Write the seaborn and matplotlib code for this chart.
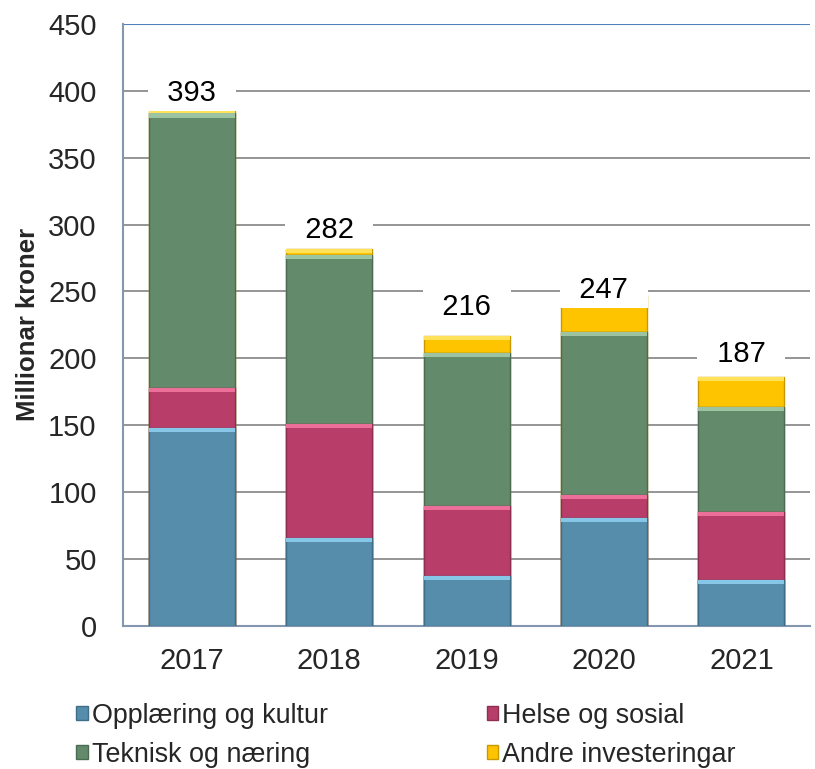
import matplotlib
matplotlib.use("Agg")
import matplotlib.pyplot as plt
import seaborn as sns
import pandas as pd
import numpy as np
from matplotlib.patches import Patch

years = ["2017", "2018", "2019", "2020", "2021"]
opplaering = [148, 66, 37, 81, 34]
helse = [30, 85, 53, 17, 51]
teknisk = [205, 126, 114, 122, 79]
andre = [2, 5, 13, 27, 22]
total_labels = ["393", "282", "216", "247", "187"]
series_names = ["Opplæring og kultur", "Helse og sosial", "Teknisk og næring", "Andre investeringar"]
colors = ["#558DAA", "#B83D68", "#638A6B", "#FFC400"]
edge_colors = ["#3F6E88", "#8E2E50", "#4B6B52", "#C89A00"]
light_colors = ["#86C6E6", "#EC6F9A", "#9CC3A2", "#FFE15A"]
label_offsets = [13, 14, 21.5, 4, 17]

sns.set_theme(style="white")
plt.rcParams["font.family"] = ["Liberation Sans", "DejaVu Sans"]

fig = plt.figure(figsize=(8.15, 7.69), dpi=100)
ax = fig.add_axes([0.151, 0.186, 0.843, 0.783])

series = [opplaering, helse, teknisk, andre]
cum = np.cumsum(np.array(series), axis=0)
for i in range(3, -1, -1):
    df = pd.DataFrame({"year": years, "value": cum[i]})
    sns.barplot(data=df, x="year", y="value", color=colors[i], width=0.625,
                edgecolor=edge_colors[i], linewidth=1.0, ax=ax, saturation=1,
                zorder=3, legend=False)

# bevel highlight at the top of each segment, derived from the drawn bars
bars = list(ax.patches)
for k, p in enumerate(bars):
    i = 3 - k // 5
    h = p.get_height()
    if h <= 0:
        continue
    strip = min(3.0, h * 0.5)
    ax.add_patch(plt.Rectangle((p.get_x(), h - strip), p.get_width(), strip,
                               facecolor=light_colors[i], edgecolor="none",
                               zorder=3.5))

totals = cum[3]
for j, lab in enumerate(total_labels):
    ax.text(j, totals[j] + label_offsets[j], "  " + lab + "  ", ha="center", va="center",
            fontsize=21, color="black", zorder=5,
            bbox=dict(facecolor="white", edgecolor="none", pad=2.5))

ax.set_ylim(0, 450)
ax.set_xlim(-0.5, 4.5)
ax.set_yticks(np.arange(0, 451, 50))
ax.tick_params(axis="both", labelsize=21, length=0)
ax.tick_params(axis="x", pad=15)
ax.tick_params(axis="y", pad=19)
ax.set_xlabel("")
ax.set_ylabel("Millionar kroner", fontsize=18.5, fontweight="bold", labelpad=6)
ax.yaxis.grid(True, color="#8C8C8C", linewidth=1.3, zorder=0)
ax.set_axisbelow(True)
for s in ["top", "right"]:
    ax.spines[s].set_visible(False)
ax.spines["left"].set_color("#8497B0")
ax.spines["left"].set_linewidth(1.5)
ax.spines["bottom"].set_color("#8497B0")
ax.spines["bottom"].set_linewidth(1.5)
ax.axhline(450, color="#4F81BD", linewidth=1.5, zorder=1)

handles = [Patch(facecolor=colors[i], edgecolor=edge_colors[i]) for i in range(4)]
h2 = [handles[0], handles[2], handles[1], handles[3]]
l2 = [series_names[0], series_names[2], series_names[1], series_names[3]]
fig.legend(h2, l2, ncol=2, loc="lower left", bbox_to_anchor=(0.064, -0.03),
           frameon=False, fontsize=19.4, handlelength=0.42, handleheight=0.42,
           handletextpad=0.15, columnspacing=5.9, labelspacing=0.48)

fig.savefig("out.png", dpi=100)
